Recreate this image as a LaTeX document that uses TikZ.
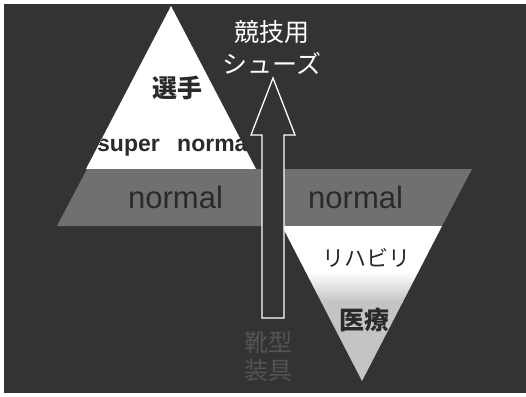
\documentclass[tikz,border=0pt]{standalone}
\usepackage{fontspec}
\setmainfont{Liberation Sans}
\newfontfamily\jp{Noto Sans CJK JP}
\definecolor{bg}{HTML}{333333}
\definecolor{band}{HTML}{707070}
\definecolor{ink}{HTML}{2A2A2A}
\definecolor{dim}{HTML}{545454}
\definecolor{lowgray}{HTML}{C4C4C4}
\tikzset{
  jplabel/.style={inner sep=0pt, font=\jp\fontsize{25}{28}\selectfont},
  jpbold/.style={inner sep=0pt, font=\jp\bfseries\fontsize{25}{28}\selectfont, text=ink},
  bandtext/.style={inner sep=0pt, anchor=base west, font=\fontsize{31}{34}\selectfont, text=ink},
  suptext/.style={inner sep=0pt, anchor=base west, font=\bfseries\fontsize{23}{26}\selectfont, text=ink},
  hollowarrow/.style={draw=white, line width=1.3pt, fill=bg, line join=miter}
}
\begin{document}
\begin{tikzpicture}[x=1pt,y=-1pt]
\useasboundingbox (0,0) rectangle (526,396);
\fill[white] (0,0) rectangle (526,396);
\fill[bg] (4,4) rectangle (526,393);
% upper triangle (white part)
\fill[white] (171,6) -- (86,169) -- (256,169) -- cycle;
\begin{scope}
  \clip (171,6) -- (86,169) -- (256,169) -- cycle;
  \node[suptext] (sup) at (97,151) {super};
  \node[suptext] (nor) at (177,151) {normal};
\end{scope}
% gray band
\fill[band] (57,226) -- (87,169) -- (472,169) -- (442,226) -- cycle;
% lower triangle
\begin{scope}
  \clip (282,226) -- (442,226) -- (362,381) -- cycle;
  \fill[white] (280,226) rectangle (445,272);
  \shade[top color=white, bottom color=lowgray] (280,272) rectangle (445,302);
  \fill[lowgray] (280,302) rectangle (445,382);
\end{scope}
% hollow arrow
\draw[hollowarrow] (262,318) -- (262,135) -- (251,135) -- (273,78) -- (295,135) -- (284,135) -- (284,318) -- cycle;
% texts
\node[jplabel, text=white] (k1) at (272,32) {競技用};
\node[jplabel, text=white] (k2) at (272,63) {シューズ};
\node[jpbold] (sen) at (177,88) {選手};
\node[bandtext] (n1) at (128,208) {normal};
\node[bandtext] (n2) at (308,208) {normal};
\node[jplabel, text=ink, font=\jp\fontsize{22}{26}\selectfont] (reh) at (366,258) {リハビリ};
\node[jpbold] (iry) at (364,320) {医療};
\node[jplabel, text=dim, font=\jp\fontsize{24}{28}\selectfont] (s1) at (268,342) {靴型};
\node[jplabel, text=dim, font=\jp\fontsize{24}{28}\selectfont] (s2) at (268,370) {装具};
\end{tikzpicture}
\end{document}
